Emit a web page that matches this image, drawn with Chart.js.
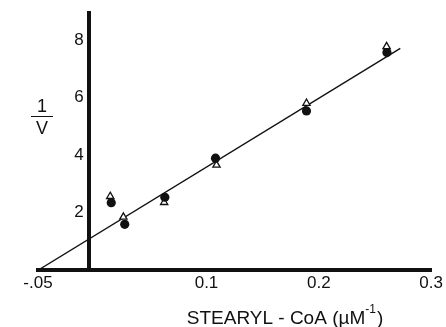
<!DOCTYPE html>
<html><head><meta charset="utf-8">
<script src="https://cdn.jsdelivr.net/npm/chart.js@4/dist/chart.umd.min.js"></script>
<style>html,body{margin:0;padding:0;background:#fff}#wrap{width:446px;height:327px;position:relative}</style>
</head><body><div id="wrap"><canvas id="c"></canvas></div>
<script>
// values
const circleX   = [0.0152, 0.0272, 0.0629, 0.1080, 0.1890, 0.2606];
const circleY   = [2.34, 1.59, 2.53, 3.89, 5.53, 7.56];
const triangleX = [0.0143, 0.0260, 0.0623, 0.1089, 0.1890, 0.2603];
const triangleY = [2.56, 1.84, 2.35, 3.65, 5.80, 7.77];
const fitX = [-0.0497, 0.2725];
const fitY = [0, 7.71];
const xTickValues = [-0.05, 0.1, 0.2, 0.3];
const xTickLabels = ['-.05', '0.1', '0.2', '0.3'];
const yTickValues = [2, 4, 6, 8];
const yTickLabels = ['2 ', '4 ', '6 ', '8 '];
const yAxisAt = -0.005;
const xRange = [-0.05, 0.3];
const yRange = [0, 8.93];
const xTitle = 'STEARYL - CoA (\u00B5M';
const xTitleSup = '-1';
const yTitleTop = '1';
const yTitleBottom = 'V';

const INK = '#111';
const FONT = '"Liberation Sans", "DejaVu Sans", sans-serif';

const pts = (xs, ys) => xs.map((x, i) => ({x, y: ys[i]}));

const textPlugin = {
  id: 'textPlugin',
  afterDraw(chart) {
    const {ctx, chartArea: a} = chart;
    ctx.save();
    ctx.fillStyle = INK; ctx.strokeStyle = INK;
    // 1 / V label
    ctx.font = '18px ' + FONT;
    ctx.textAlign = 'center'; ctx.textBaseline = 'middle';
    const cx = a.left + 4;
    ctx.fillText(yTitleTop, cx, 107);
    ctx.lineWidth = 1;
    ctx.beginPath(); ctx.moveTo(cx - 11, 116.5); ctx.lineTo(cx + 11, 116.5); ctx.stroke();
    ctx.fillText(yTitleBottom, cx, 129);
    // x title
    ctx.textAlign = 'left'; ctx.textBaseline = 'alphabetic';
    ctx.font = '19px ' + FONT;
    const mainW = ctx.measureText(xTitle).width;
    ctx.font = '12px ' + FONT;
    const supW = ctx.measureText(xTitleSup).width;
    ctx.font = '19px ' + FONT;
    const closeW = ctx.measureText(')').width;
    const total = mainW + supW + closeW + 1;
    let x0 = 285 - total / 2;
    const base = 324;
    ctx.fillText(xTitle, x0, base);
    ctx.font = '12px ' + FONT;
    ctx.fillText(xTitleSup, x0 + mainW, base - 11);
    ctx.font = '19px ' + FONT;
    ctx.fillText(')', x0 + mainW + supW + 1, base);
    ctx.restore();
  }
};

new Chart(document.getElementById('c'), {
  type: 'scatter',
  data: {
    datasets: [
      { label: 'circles', data: pts(circleX, circleY), pointStyle: 'circle', pointRadius: 4.6,
        backgroundColor: INK, borderColor: INK, borderWidth: 0 },
      { label: 'triangles', data: pts(triangleX, triangleY), pointStyle: 'triangle', pointRadius: 4.2,
        backgroundColor: '#fff', borderColor: INK, borderWidth: 1.3 },
      { label: 'fit', data: pts(fitX, fitY), showLine: true, pointRadius: 0,
        borderColor: INK, borderWidth: 1.4, fill: false }
    ]
  },
  options: {
    responsive: true, maintainAspectRatio: false, animation: false,
    layout: { padding: { left: 38, right: 12, top: 13, bottom: 0 } },
    plugins: { legend: { display: false }, tooltip: { enabled: false } },
    scales: {
      x: {
        type: 'linear', position: 'bottom', min: xRange[0], max: xRange[1],
        afterBuildTicks: s => { s.ticks = xTickValues.map(v => ({value: v})); },
        afterFit: s => { s.height = 57; },
        ticks: {
          autoSkip: false, maxRotation: 0, padding: 3, color: INK,
          font: { size: 17, family: FONT },
          callback: v => { const i = xTickValues.findIndex(t => Math.abs(t - v) < 1e-9); return i >= 0 ? xTickLabels[i] : ''; }
        },
        grid: { display: false, drawTicks: false },
        border: { display: true, width: 4, color: INK }
      },
      y: {
        type: 'linear', position: { x: yAxisAt }, min: yRange[0], max: yRange[1],
        afterBuildTicks: s => { s.ticks = yTickValues.map(v => ({value: v})); },
        ticks: {
          autoSkip: false, color: INK, font: { size: 17, family: FONT },
          callback: v => { const i = yTickValues.indexOf(v); return i >= 0 ? yTickLabels[i] : ''; }
        },
        grid: { display: false, drawTicks: false },
        border: { display: true, width: 4, color: INK }
      }
    }
  },
  plugins: [textPlugin]
});
</script>
</body></html>
